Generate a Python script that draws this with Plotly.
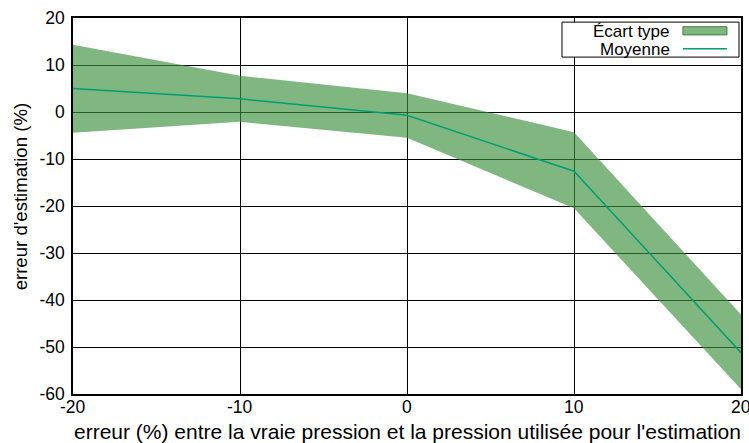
import plotly.graph_objects as go

x = [-20, -10, 0, 10, 20]
mean = [5.0, 2.8, -0.7, -12.6, -51.2]
upper = [14.3, 7.7, 4.0, -4.3, -43.1]
lower = [-4.4, -2.1, -5.5, -20.5, -59.0]
xticks = [-20, -10, 0, 10, 20]
yticks = [-60, -50, -40, -30, -20, -10, 0, 10, 20]

FONT = "Liberation Sans"
fill_col = "rgba(60,145,60,0.65)"
line_col = "#009e73"

fig = go.Figure()
fig.add_trace(go.Scatter(
    x=x + x[::-1], y=upper + lower[::-1], fill="toself",
    fillcolor=fill_col, line=dict(width=0), mode="lines",
    hoverinfo="skip", showlegend=False))
fig.add_trace(go.Scatter(
    x=x, y=mean, mode="lines", line=dict(color=line_col, width=1.5),
    showlegend=False))

axis_common = dict(
    showline=True, mirror=True, linecolor="black", linewidth=1.5,
    showgrid=True, gridcolor="black", gridwidth=1,
    zeroline=True, zerolinecolor="black", zerolinewidth=1,
    ticks="", ticklen=0, tickfont=dict(family=FONT, size=17.5, color="black"),
    automargin=False, ticklabeloverflow="allow",
)
fig.update_xaxes(range=[-20, 20], tickvals=xticks, showticklabels=False, **axis_common)
fig.update_yaxes(range=[-60, 20], tickvals=yticks, ticktext=[str(v) for v in yticks],
                 ticklabelstandoff=3, **axis_common)

# x tick labels placed close to the axis (gnuplot style)
for v in xticks:
    fig.add_annotation(text=str(v), x=v, y=0, xref="x", yref="paper",
                       xanchor="center", yanchor="top", yshift=-1, showarrow=False,
                       font=dict(family=FONT, size=17.5, color="black"))

# legend box (gnuplot style: text left, key right)
fig.add_shape(type="rect", xref="paper", yref="paper", x0=0.732, x1=0.997,
              y0=0.896, y1=0.989, line=dict(color="black", width=1),
              fillcolor="white", layer="above")
fig.add_shape(type="rect", xref="paper", yref="paper", x0=0.913, x1=0.979,
              y0=0.955, y1=0.977, line=dict(color="rgba(40,110,40,0.8)", width=1),
              fillcolor=fill_col, layer="above")
fig.add_shape(type="line", xref="paper", yref="paper", x0=0.913, x1=0.979,
              y0=0.918, y1=0.918, line=dict(color=line_col, width=1.5), layer="above")

annots = [
    dict(text="Écart type", x=0.897, y=0.963),
    dict(text="Moyenne", x=0.897, y=0.917),
]
for a in annots:
    fig.add_annotation(text=a["text"], x=a["x"], y=a["y"], xref="paper", yref="paper",
                       xanchor="right", yanchor="middle", showarrow=False,
                       font=dict(family=FONT, size=17, color="black"))

fig.add_annotation(text="erreur (%) entre la vraie pression et la pression utilisée pour l'estimation",
                   x=0.5, y=0, xref="paper", yref="paper", xanchor="center", yanchor="middle",
                   yshift=-37, showarrow=False, font=dict(family=FONT, size=21, color="black"))
fig.add_annotation(text="erreur d'estimation (%)", x=0, y=0.523, xref="paper", yref="paper",
                   xanchor="center", yanchor="middle", xshift=-53, textangle=-90,
                   showarrow=False, font=dict(family=FONT, size=18.6, color="black"))

fig.update_layout(
    width=749, height=443,
    margin=dict(l=73, r=8, t=18, b=49, autoexpand=False),
    paper_bgcolor="white", plot_bgcolor="white",
    font=dict(family=FONT, color="black"),
    showlegend=False,
)
fig.write_html("out.html", config={"displayModeBar": False},
               post_script="document.body.style.margin='0';document.body.style.overflow='hidden';")
